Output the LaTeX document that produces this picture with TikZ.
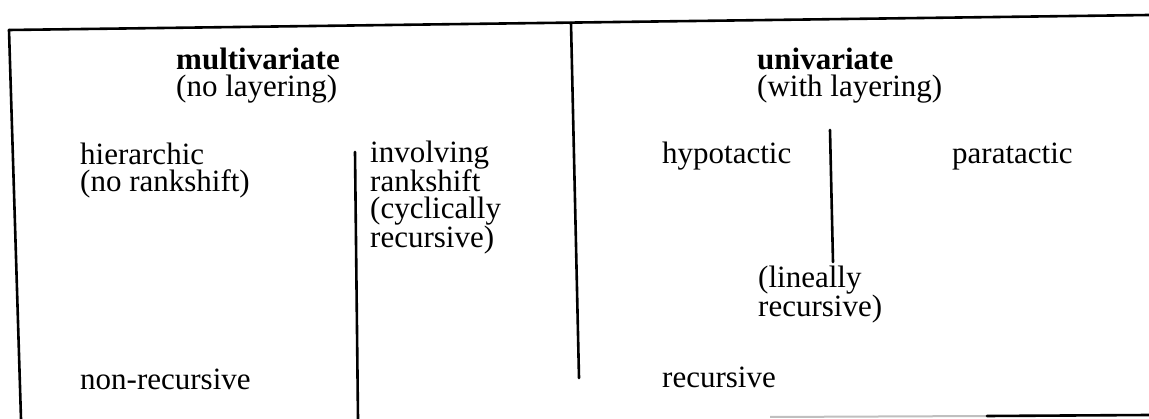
\documentclass[tikz,border=0pt]{standalone}
\usepackage{fontspec}
\setmainfont{Liberation Serif}
\begin{document}
\begin{tikzpicture}[x=1pt,y=-1pt,
  rule/.style={line width=2.6pt,line cap=round},
  faint/.style={line width=2pt,black!25},
  lbl/.style={anchor=base west,inner sep=0pt,align=left,
    font=\fontsize{31}{27}\selectfont},
  head/.style={lbl,font=\fontsize{31}{27}\selectfont\bfseries}]
\useasboundingbox (0,0) rectangle (1149,419);

% frame rules
\coordinate (tl) at (9,30);
\coordinate (tr) at (1149,15);
\coordinate (bl) at (21,419);
\coordinate (midtop) at (571,23);
\coordinate (midbot) at (579,378);
\coordinate (lefttop) at (355,152);
\coordinate (leftbot) at (358,419);
\coordinate (righttop) at (830,130);
\coordinate (rightbot) at (833,262);
\coordinate (basefaint) at (770,417);
\coordinate (basemid) at (987,416);
\coordinate (baseend) at (1149,415);

\draw[rule] (tl) -- (tr);
\draw[rule] (tl) -- (bl);
\draw[rule] (midtop) -- (midbot);
\draw[rule] (lefttop) -- (leftbot);
\draw[rule] (righttop) -- (rightbot);
\draw[faint] (basefaint) -- (basemid);
\draw[rule] (basemid) -- (baseend);

% headings (anchor = baseline of the last line)
\node[head] (multi) at (176,70) {multivariate};
\node[lbl]  (multisub) at (176,97) {(no layering)};
\node[head] (uni) at (757,70) {univariate};
\node[lbl]  (unisub) at (757,97) {(with layering)};

% left section
\node[lbl] (hier) at (80,192) {hierarchic\\(no rankshift)};
\node[lbl] (invol) at (370,248) {involving\\rankshift\\(cyclically\\recursive)};
\node[lbl] (nonrec) at (80,390) {non-recursive};

% right section
\node[lbl] (hypo) at (662,164) {hypotactic};
\node[lbl] (para) at (952,164) {paratactic};
\node[lbl] (lin) at (758,317) {(lineally\\recursive)};
\node[lbl] (rec) at (662,388) {recursive};
\end{tikzpicture}
\end{document}
